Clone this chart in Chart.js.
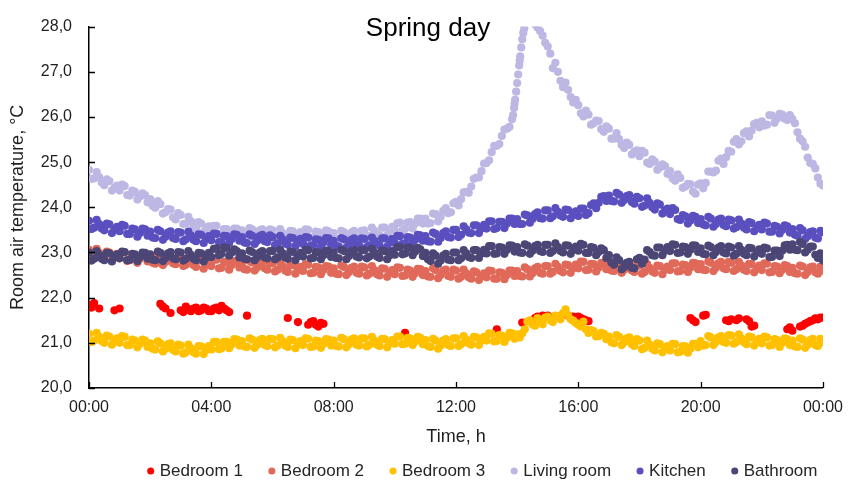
<!DOCTYPE html>
<html lang="en">
<head>
<meta charset="utf-8">
<title>Spring day – room air temperature</title>
<script src="https://cdn.jsdelivr.net/npm/chart.js@4.4.1/dist/chart.umd.min.js"></script>
<style>
  html, body { margin: 0; padding: 0; background: #ffffff; }
  #wrap { width: 853px; height: 482px; }
</style>
</head>
<body>
<div id="wrap"><canvas id="chart" width="853" height="482"></canvas></div>
<script>
// ---- text ----
const chartTitle = 'Spring day';
const xAxisTitle = 'Time, h';
const yAxisTitle = 'Room air temperature, °C';
const timeTickLabels = ['00:00', '04:00', '08:00', '12:00', '16:00', '20:00', '00:00'];
const tempTickLabels = ['20,0', '21,0', '22,0', '23,0', '24,0', '25,0', '26,0', '27,0', '28,0'];
const roomNames = ['Bedroom 1', 'Bedroom 2', 'Bedroom 3', 'Living room', 'Kitchen', 'Bathroom'];

// ---- logged temperatures, °C, one sample every 5 minutes, 00:00 … 24:00 (one row per hour) ----
const SAMPLE_STEP_MIN = 5;

// Bedroom 1 logger has gaps (null = no reading)
const bedroom1 = [
  21.84, 21.78, 21.88, null, 21.76, null, null, null, null, null, 21.72, null,
  21.76, null, null, null, null, null, null, null, null, null, null, null,
  null, null, null, null, 21.86, 21.80, 21.76, null, 21.66, null, null, null,
  21.72, 21.68, 21.80, 21.74, 21.70, 21.76, 21.78, 21.70, 21.72, 21.78, 21.76, 21.70,
  21.70, 21.76, 21.78, 21.72, 21.82, 21.76, 21.72, 21.68, null, null, null, null,
  null, null, 21.60, null, null, null, null, null, null, null, null, null,
  null, null, null, null, null, null, 21.55, null, null, null, 21.46, null,
  null, null, 21.40, 21.46, 21.48, 21.40, 21.36, 21.44, 21.42, null, null, null,
  null, null, null, null, null, null, null, null, null, null, null, null,
  null, null, null, null, null, null, null, null, null, null, null, null,
  null, null, null, null, 21.22, null, null, null, null, null, null, null,
  null, null, null, null, null, null, null, null, null, null, null, null,
  null, null, null, null, null, null, null, null, null, null, null, null,
  null, null, null, null, 21.30, null, null, null, null, null, null, null,
  null, null, 21.45, null, null, null, null, 21.55, 21.58, null, 21.60, null,
  21.60, null, 21.56, null, 21.58, null, null, null, 21.60, null, 21.58, null,
  21.58, 21.55, 21.52, 21.50, 21.48, null, null, null, null, null, null, null,
  null, null, null, null, null, null, null, null, null, null, null, null,
  null, null, null, null, null, null, null, null, null, null, null, null,
  null, null, null, null, null, null, null, null, 21.55, 21.50, 21.46, null,
  null, 21.60, 21.62, null, null, null, null, null, null, null, 21.50, 21.48,
  21.52, null, 21.50, 21.54, null, null, 21.52, 21.48, 21.36, 21.38, null, null,
  null, null, null, null, null, null, null, null, null, null, 21.30, 21.34,
  21.27, null, null, 21.36, 21.38, 21.42, 21.45, 21.48, 21.50, 21.54, 21.52, 21.56,
  21.56
];

const bedroom2 = [
  23.06, 22.88, 22.91, 23.08, 22.99, 22.90, 22.86, 23.02, 23.00, 22.82, 22.90, 22.97,
  22.87, 23.01, 23.00, 22.81, 22.83, 22.94, 22.94, 22.77, 22.86, 22.95, 22.93, 22.80,
  22.89, 22.77, 22.75, 22.94, 22.91, 22.72, 22.79, 22.88, 22.90, 22.76, 22.74, 22.89,
  22.88, 22.70, 22.73, 22.90, 22.81, 22.72, 22.68, 22.84, 22.83, 22.64, 22.73, 22.80,
  22.70, 22.84, 22.84, 22.65, 22.66, 22.79, 22.78, 22.62, 22.72, 22.81, 22.80, 22.67,
  22.76, 22.63, 22.62, 22.81, 22.78, 22.60, 22.67, 22.76, 22.79, 22.65, 22.62, 22.78,
  22.76, 22.58, 22.62, 22.78, 22.70, 22.60, 22.57, 22.73, 22.72, 22.53, 22.62, 22.68,
  22.59, 22.74, 22.73, 22.54, 22.55, 22.68, 22.67, 22.52, 22.61, 22.70, 22.69, 22.55,
  22.65, 22.53, 22.52, 22.71, 22.68, 22.50, 22.57, 22.66, 22.69, 22.55, 22.53, 22.69,
  22.67, 22.49, 22.53, 22.70, 22.61, 22.52, 22.49, 22.65, 22.64, 22.46, 22.55, 22.61,
  22.52, 22.67, 22.66, 22.48, 22.49, 22.62, 22.60, 22.46, 22.54, 22.64, 22.63, 22.50,
  22.59, 22.47, 22.46, 22.65, 22.61, 22.43, 22.50, 22.60, 22.62, 22.48, 22.46, 22.62,
  22.60, 22.42, 22.46, 22.62, 22.54, 22.45, 22.42, 22.58, 22.56, 22.39, 22.47, 22.54,
  22.45, 22.60, 22.59, 22.42, 22.42, 22.56, 22.55, 22.41, 22.50, 22.60, 22.60, 22.48,
  22.59, 22.48, 22.47, 22.67, 22.63, 22.47, 22.54, 22.65, 22.68, 22.55, 22.53, 22.70,
  22.70, 22.53, 22.57, 22.75, 22.68, 22.59, 22.56, 22.73, 22.72, 22.55, 22.65, 22.73,
  22.65, 22.80, 22.79, 22.61, 22.62, 22.75, 22.74, 22.58, 22.67, 22.77, 22.76, 22.63,
  22.72, 22.60, 22.59, 22.77, 22.74, 22.55, 22.62, 22.72, 22.74, 22.60, 22.57, 22.72,
  22.71, 22.53, 22.57, 22.74, 22.66, 22.58, 22.55, 22.71, 22.70, 22.52, 22.62, 22.69,
  22.61, 22.76, 22.76, 22.58, 22.59, 22.73, 22.72, 22.57, 22.67, 22.77, 22.76, 22.63,
  22.74, 22.62, 22.61, 22.80, 22.77, 22.59, 22.66, 22.76, 22.79, 22.65, 22.63, 22.79,
  22.77, 22.59, 22.63, 22.79, 22.71, 22.62, 22.59, 22.75, 22.74, 22.56, 22.64, 22.71,
  22.61, 22.76, 22.75, 22.56, 22.57, 22.70, 22.69, 22.54, 22.62, 22.72, 22.70, 22.57,
  22.66, 22.54, 22.53, 22.71, 22.69, 22.50, 22.57, 22.67, 22.69, 22.56, 22.53, 22.69,
  22.60
];

const bedroom3 = [
  21.20, 21.02, 21.05, 21.22, 21.13, 21.04, 21.00, 21.16, 21.14, 20.96, 21.04, 21.10,
  21.00, 21.15, 21.13, 20.95, 20.95, 21.07, 21.05, 20.90, 20.98, 21.07, 21.05, 20.91,
  20.99, 20.87, 20.85, 21.03, 20.99, 20.81, 20.87, 20.97, 20.99, 20.84, 20.81, 20.96,
  20.94, 20.76, 20.79, 20.96, 20.88, 20.79, 20.76, 20.93, 20.92, 20.75, 20.84, 20.93,
  20.85, 21.02, 21.02, 20.86, 20.88, 21.02, 21.02, 20.88, 20.97, 21.08, 21.07, 20.94,
  21.04, 20.92, 20.91, 21.10, 21.07, 20.89, 20.96, 21.06, 21.09, 20.95, 20.93, 21.09,
  21.08, 20.90, 20.94, 21.11, 21.03, 20.94, 20.91, 21.07, 21.06, 20.88, 20.97, 21.04,
  20.95, 21.10, 21.09, 20.91, 20.92, 21.05, 21.04, 20.89, 20.98, 21.08, 21.07, 20.94,
  21.05, 20.93, 20.92, 21.11, 21.08, 20.90, 20.97, 21.07, 21.10, 20.96, 20.94, 21.10,
  21.10, 20.92, 20.96, 21.13, 21.05, 20.96, 20.93, 21.09, 21.08, 20.90, 20.99, 21.06,
  20.98, 21.14, 21.14, 20.97, 20.98, 21.11, 21.10, 20.95, 21.03, 21.13, 21.11, 20.97,
  21.06, 20.93, 20.91, 21.09, 21.05, 20.87, 20.94, 21.05, 21.08, 20.95, 20.93, 21.10,
  21.10, 20.93, 20.97, 21.15, 21.07, 20.99, 20.96, 21.13, 21.12, 20.95, 21.05, 21.13,
  21.05, 21.21, 21.20, 21.03, 21.04, 21.17, 21.16, 21.02, 21.11, 21.22, 21.21, 21.09,
  21.19, 21.12, 21.21, 21.30, 21.47, 21.50, 21.41, 21.38, 21.55, 21.50, 21.41, 21.56,
  21.58, 21.50, 21.46, 21.60, 21.58, 21.52, 21.66, 21.74, 21.61, 21.52, 21.49, 21.44,
  21.40, 21.36, 21.47, 21.30, 21.22, 21.28, 21.26, 21.14, 21.15, 21.22, 21.20, 21.08,
  21.14, 21.01, 20.99, 21.17, 21.13, 20.95, 21.01, 21.10, 21.12, 20.97, 20.93, 21.08,
  21.05, 20.86, 20.89, 21.05, 20.96, 20.87, 20.83, 20.99, 20.97, 20.79, 20.87, 20.93,
  20.83, 20.98, 20.97, 20.79, 20.80, 20.93, 20.92, 20.78, 20.87, 20.98, 20.98, 20.90,
  21.04, 20.94, 20.95, 21.15, 21.12, 20.95, 21.02, 21.12, 21.15, 21.02, 21.00, 21.17,
  21.16, 20.98, 21.02, 21.19, 21.10, 21.01, 20.97, 21.14, 21.12, 20.94, 21.02, 21.09,
  20.99, 21.14, 21.12, 20.94, 20.95, 21.08, 21.06, 20.91, 21.00, 21.10, 21.08, 20.95,
  21.05, 20.92, 20.91, 21.10, 21.07, 20.89, 20.96, 21.06, 21.09, 20.95, 20.93, 21.09,
  21.02
];

// readings above 28 °C fall outside the plotted range
const livingRoom = [
  24.83, 24.63, 24.64, 24.78, 24.67, 24.55, 24.49, 24.62, 24.58, 24.37, 24.43, 24.48,
  24.37, 24.50, 24.47, 24.27, 24.26, 24.37, 24.34, 24.17, 24.24, 24.31, 24.27, 24.11,
  24.18, 24.03, 23.99, 24.14, 24.07, 23.86, 23.89, 23.96, 23.95, 23.78, 23.73, 23.87,
  23.83, 23.63, 23.64, 23.79, 23.69, 23.58, 23.53, 23.67, 23.64, 23.45, 23.52, 23.58,
  23.47, 23.59, 23.59, 23.39, 23.41, 23.52, 23.52, 23.35, 23.45, 23.53, 23.53, 23.39,
  23.49, 23.36, 23.35, 23.54, 23.51, 23.33, 23.39, 23.49, 23.51, 23.38, 23.35, 23.51,
  23.49, 23.31, 23.35, 23.52, 23.43, 23.35, 23.31, 23.48, 23.47, 23.29, 23.38, 23.45,
  23.36, 23.51, 23.50, 23.32, 23.33, 23.46, 23.45, 23.30, 23.39, 23.49, 23.47, 23.35,
  23.43, 23.30, 23.29, 23.48, 23.45, 23.27, 23.34, 23.44, 23.48, 23.34, 23.33, 23.48,
  23.49, 23.32, 23.37, 23.55, 23.48, 23.40, 23.38, 23.55, 23.55, 23.38, 23.48, 23.57,
  23.49, 23.65, 23.66, 23.49, 23.52, 23.66, 23.67, 23.53, 23.64, 23.75, 23.75, 23.64,
  23.75, 23.64, 23.65, 23.86, 23.85, 23.69, 23.79, 23.92, 23.98, 23.87, 23.89, 24.09,
  24.12, 24.04, 24.18, 24.33, 24.34, 24.32, 24.46, 24.63, 24.66, 24.66, 24.80, 24.97,
  24.98, 25.04, 25.22, 25.36, 25.36, 25.40, 25.58, 25.72, 25.74, 25.78, 25.95, 26.29,
  26.75, 27.25, 27.72, 28.10, 28.40, 28.45, 28.30, 28.05, 27.98, 27.90, 27.80, 27.64,
  27.56, 27.40, 27.08, 27.20, 27.00, 26.80, 26.66, 26.76, 26.60, 26.44, 26.32, 26.38,
  26.26, 26.08, 26.01, 26.14, 26.05, 25.83, 25.86, 25.92, 25.91, 25.73, 25.67, 25.79,
  25.74, 25.52, 25.52, 25.64, 25.51, 25.38, 25.31, 25.43, 25.38, 25.17, 25.23, 25.26,
  25.13, 25.25, 25.21, 24.99, 24.96, 25.06, 25.01, 24.83, 24.88, 24.95, 24.91, 24.74,
  24.80, 24.64, 24.59, 24.73, 24.65, 24.43, 24.46, 24.52, 24.51, 24.35, 24.30, 24.50,
  24.53, 24.42, 24.54, 24.79, 24.79, 24.77, 24.81, 25.03, 25.08, 24.96, 25.11, 25.25,
  25.23, 25.45, 25.51, 25.39, 25.46, 25.64, 25.68, 25.57, 25.70, 25.84, 25.87, 25.77,
  25.90, 25.81, 25.83, 26.04, 26.03, 25.87, 25.96, 26.07, 26.05, 25.96, 25.93, 26.04,
  25.95, 25.86, 25.66, 25.52, 25.46, 25.34, 25.10, 24.98, 24.96, 24.86, 24.66, 24.52,
  24.48
];
// extra readings logged during the fast afternoon rise: [minute of day, °C]
const livingRoomRise = [
  [832, 26.04], [834, 26.20], [836, 26.38], [838, 26.56], [842, 26.94],
  [844, 27.14], [846, 27.34], [848, 27.54], [852, 27.86], [854, 27.96]
];

const kitchen = [
  23.70, 23.52, 23.55, 23.72, 23.63, 23.53, 23.49, 23.64, 23.62, 23.43, 23.51, 23.57,
  23.47, 23.61, 23.59, 23.41, 23.41, 23.53, 23.51, 23.35, 23.43, 23.53, 23.51, 23.37,
  23.46, 23.33, 23.32, 23.50, 23.47, 23.28, 23.35, 23.44, 23.47, 23.32, 23.30, 23.45,
  23.44, 23.25, 23.29, 23.46, 23.38, 23.28, 23.25, 23.40, 23.39, 23.21, 23.30, 23.36,
  23.27, 23.42, 23.41, 23.23, 23.24, 23.37, 23.36, 23.21, 23.30, 23.40, 23.39, 23.26,
  23.34, 23.22, 23.21, 23.40, 23.37, 23.19, 23.26, 23.36, 23.39, 23.25, 23.23, 23.38,
  23.34, 23.16, 23.20, 23.37, 23.29, 23.20, 23.17, 23.33, 23.32, 23.14, 23.23, 23.30,
  23.19, 23.34, 23.33, 23.15, 23.16, 23.29, 23.28, 23.13, 23.22, 23.32, 23.31, 23.17,
  23.26, 23.14, 23.13, 23.32, 23.29, 23.11, 23.18, 23.28, 23.31, 23.17, 23.15, 23.31,
  23.30, 23.12, 23.16, 23.33, 23.26, 23.18, 23.15, 23.31, 23.31, 23.13, 23.22, 23.30,
  23.21, 23.37, 23.36, 23.19, 23.20, 23.34, 23.33, 23.19, 23.28, 23.39, 23.38, 23.26,
  23.36, 23.25, 23.24, 23.44, 23.41, 23.24, 23.32, 23.43, 23.47, 23.34, 23.33, 23.50,
  23.50, 23.34, 23.39, 23.58, 23.51, 23.44, 23.43, 23.60, 23.60, 23.43, 23.53, 23.61,
  23.53, 23.69, 23.69, 23.52, 23.54, 23.68, 23.68, 23.54, 23.64, 23.75, 23.75, 23.63,
  23.74, 23.63, 23.63, 23.84, 23.82, 23.66, 23.74, 23.85, 23.89, 23.76, 23.75, 23.93,
  23.93, 23.76, 23.80, 23.98, 23.90, 23.82, 23.79, 23.95, 23.94, 23.76, 23.85, 23.91,
  23.81, 23.97, 23.97, 23.83, 23.87, 24.05, 24.09, 23.98, 24.10, 24.23, 24.25, 24.14,
  24.26, 24.14, 24.13, 24.32, 24.28, 24.10, 24.16, 24.25, 24.27, 24.12, 24.08, 24.23,
  24.20, 24.01, 24.04, 24.20, 24.10, 24.00, 23.95, 24.09, 24.06, 23.86, 23.93, 23.97,
  23.85, 23.98, 23.94, 23.74, 23.72, 23.83, 23.80, 23.64, 23.71, 23.81, 23.79, 23.65,
  23.74, 23.62, 23.60, 23.79, 23.75, 23.57, 23.63, 23.73, 23.75, 23.61, 23.58, 23.73,
  23.71, 23.53, 23.56, 23.73, 23.64, 23.55, 23.51, 23.67, 23.65, 23.47, 23.55, 23.61,
  23.51, 23.66, 23.64, 23.46, 23.46, 23.59, 23.57, 23.42, 23.50, 23.60, 23.58, 23.44,
  23.52, 23.39, 23.37, 23.54, 23.49, 23.30, 23.36, 23.45, 23.47, 23.33, 23.31, 23.48,
  23.45
];

const bathroom = [
  23.00, 22.82, 22.86, 23.03, 22.95, 22.86, 22.83, 22.99, 22.98, 22.80, 22.89, 22.96,
  22.87, 23.02, 23.01, 22.83, 22.84, 22.97, 22.96, 22.81, 22.90, 23.00, 22.99, 22.86,
  22.96, 22.84, 22.83, 23.02, 22.99, 22.81, 22.88, 22.98, 23.01, 22.87, 22.85, 23.01,
  23.00, 22.82, 22.86, 23.03, 22.95, 22.86, 22.83, 22.99, 22.98, 22.80, 22.89, 22.99,
  22.90, 23.08, 23.09, 22.94, 22.97, 23.11, 23.10, 22.93, 23.00, 23.07, 23.03, 22.89,
  22.98, 22.86, 22.85, 23.04, 23.01, 22.83, 22.90, 23.00, 23.03, 22.89, 22.87, 23.03,
  23.03, 22.85, 22.89, 23.06, 22.98, 22.89, 22.86, 23.02, 23.01, 22.83, 22.92, 22.99,
  22.91, 23.06, 23.05, 22.87, 22.88, 23.01, 23.00, 22.85, 22.94, 23.04, 23.03, 22.90,
  23.00, 22.88, 22.87, 23.06, 23.03, 22.85, 22.92, 23.02, 23.05, 22.91, 22.89, 23.05,
  23.05, 22.87, 22.91, 23.08, 23.00, 22.91, 22.88, 23.04, 23.03, 22.85, 22.94, 23.03,
  22.95, 23.12, 23.12, 22.96, 22.98, 23.11, 23.10, 22.94, 23.02, 23.10, 23.07, 22.92,
  22.99, 22.85, 22.81, 22.98, 22.93, 22.75, 22.82, 22.93, 22.97, 22.84, 22.83, 23.00,
  23.00, 22.83, 22.87, 23.05, 22.98, 22.90, 22.88, 23.05, 23.05, 22.88, 22.98, 23.06,
  22.98, 23.14, 23.14, 22.97, 22.98, 23.12, 23.11, 22.97, 23.06, 23.16, 23.15, 23.02,
  23.12, 23.00, 22.99, 23.18, 23.15, 22.97, 23.04, 23.14, 23.17, 23.03, 23.01, 23.17,
  23.17, 22.99, 23.03, 23.20, 23.12, 23.03, 23.00, 23.16, 23.15, 22.97, 23.06, 23.13,
  23.04, 23.19, 23.17, 22.99, 22.99, 23.12, 23.10, 22.94, 23.01, 23.09, 23.05, 22.88,
  22.94, 22.78, 22.73, 22.89, 22.83, 22.63, 22.68, 22.77, 22.79, 22.66, 22.65, 22.85,
  22.88, 22.75, 22.84, 23.05, 23.01, 22.94, 22.93, 23.11, 23.11, 22.94, 23.04, 23.12,
  23.03, 23.18, 23.17, 22.99, 23.00, 23.13, 23.12, 22.97, 23.06, 23.16, 23.15, 23.01,
  23.09, 22.97, 22.96, 23.15, 23.12, 22.94, 23.01, 23.11, 23.14, 23.00, 22.98, 23.13,
  23.11, 22.93, 22.97, 23.14, 23.06, 22.97, 22.94, 23.10, 23.09, 22.91, 23.00, 23.07,
  22.97, 23.11, 23.09, 22.90, 22.90, 23.04, 23.04, 22.92, 23.04, 23.16, 23.17, 23.06,
  23.18, 23.06, 23.05, 23.23, 23.19, 23.00, 23.06, 23.13, 23.13, 22.95, 22.88, 22.98,
  22.82
];

const roomColors = ['#FF0000', '#E0695A', '#FFC000', '#BDB8E3', '#5A4FBF', '#4B4676'];

// ---- scatter points, x in hours of the day ----
function toPoints(values) {
  const pts = [];
  values.forEach((v, i) => {
    if (v !== null) pts.push({ x: i * SAMPLE_STEP_MIN / 60, y: v });
  });
  return pts;
}
const livingRoomPoints = toPoints(livingRoom)
  .concat(livingRoomRise.map(([minute, v]) => ({ x: minute / 60, y: v })));

const series = [
  toPoints(bedroom1), toPoints(bedroom2), toPoints(bedroom3),
  livingRoomPoints, toPoints(kitchen), toPoints(bathroom)
];

const FONT = '"Liberation Sans", Arial, Helvetica, sans-serif';
Chart.defaults.font.family = FONT;
Chart.defaults.color = '#1f1f1f';

const datasets = series.map((pts, i) => ({
  label: roomNames[i],
  data: pts,
  backgroundColor: roomColors[i],
  borderColor: roomColors[i],
  pointRadius: 4.1,
  pointBorderWidth: 0,
  pointStyle: 'circle',
  // later rooms are painted over earlier ones
  order: series.length - i
}));

// short tick marks pointing into the plot area
const innerTicks = {
  id: 'innerTicks',
  afterDraw(chart) {
    const { ctx, chartArea: a, scales: { x, y } } = chart;
    ctx.save();
    ctx.strokeStyle = '#000';
    ctx.lineWidth = 1.3;
    ctx.beginPath();
    x.ticks.forEach((t, i) => {
      const px = Math.round(x.getPixelForTick(i)) + 0.5;
      ctx.moveTo(px, a.bottom);
      ctx.lineTo(px, a.bottom - 6);
    });
    y.ticks.forEach((t, i) => {
      const py = Math.round(y.getPixelForTick(i)) + 0.5;
      ctx.moveTo(a.left, py);
      ctx.lineTo(a.left + 6, py);
    });
    ctx.stroke();
    ctx.restore();
  }
};

// title written inside the plot area
const plotTitle = {
  id: 'plotTitle',
  afterDraw(chart) {
    const ctx = chart.ctx;
    ctx.save();
    ctx.font = '26px ' + FONT;
    ctx.fillStyle = '#000';
    ctx.textAlign = 'center';
    ctx.textBaseline = 'middle';
    ctx.fillText(chartTitle, 428, 29);
    ctx.restore();
  }
};

// legend row sits below the axis title
const LEGEND_FIRST_X = 150.2;
const LEGEND_TEXT_Y = 471;
const legendPlacement = {
  id: 'legendPlacement',
  afterLayout(chart) {
    const lg = chart.legend;
    if (!lg || !lg.lineWidths) return;
    const pad = lg.options.labels.padding;
    const start = (lg.left + pad + lg.right - lg.lineWidths[0]) / 2;
    const dx = LEGEND_FIRST_X - start;
    lg.left += dx;
    lg.right += dx;
    lg.top = LEGEND_TEXT_Y - pad - 17 / 2;
    lg.bottom = chart.height;
  }
};

new Chart(document.getElementById('chart'), {
  type: 'scatter',
  data: { datasets },
  options: {
    responsive: false,
    animation: false,
    events: [],
    layout: { padding: { left: 0, right: 26, top: 17, bottom: 0 } },
    plugins: {
      tooltip: { enabled: false },
      legend: {
        position: 'bottom',
        maxHeight: 34,
        labels: {
          usePointStyle: true,
          pointStyle: 'circle',
          boxWidth: 1,
          boxHeight: 5,
          padding: 28.5,
          color: '#262626',
          font: { size: 17, family: FONT },
          sort: (a, b) => a.datasetIndex - b.datasetIndex
        }
      }
    },
    scales: {
      x: {
        type: 'linear',
        min: 0,
        max: 24,
        grid: { display: false, drawTicks: false },
        border: { display: true, color: '#000', width: 1.5 },
        ticks: {
          stepSize: 4,
          autoSkip: false,
          maxRotation: 0,
          padding: 10,
          color: '#1f1f1f',
          font: { size: 16, family: FONT },
          callback: (value, index) => timeTickLabels[index]
        },
        title: {
          display: true,
          text: xAxisTitle,
          color: '#1f1f1f',
          font: { size: 18, family: FONT },
          padding: { top: 0, bottom: 0 }
        },
        afterFit(scale) { scale.height = 60; }
      },
      y: {
        min: 20,
        max: 28,
        grid: { display: false, drawTicks: false },
        border: { display: true, color: '#000', width: 1.5 },
        ticks: {
          stepSize: 1,
          padding: 17,
          color: '#1f1f1f',
          font: { size: 16, family: FONT },
          callback: (value, index) => tempTickLabels[index]
        },
        title: {
          display: true,
          text: yAxisTitle,
          color: '#1f1f1f',
          font: { size: 18, family: FONT },
          padding: { top: 7, bottom: 0 }
        },
        afterFit(scale) { scale.width = 89; }
      }
    }
  },
  plugins: [innerTicks, plotTitle, legendPlacement]
});
</script>
</body>
</html>
